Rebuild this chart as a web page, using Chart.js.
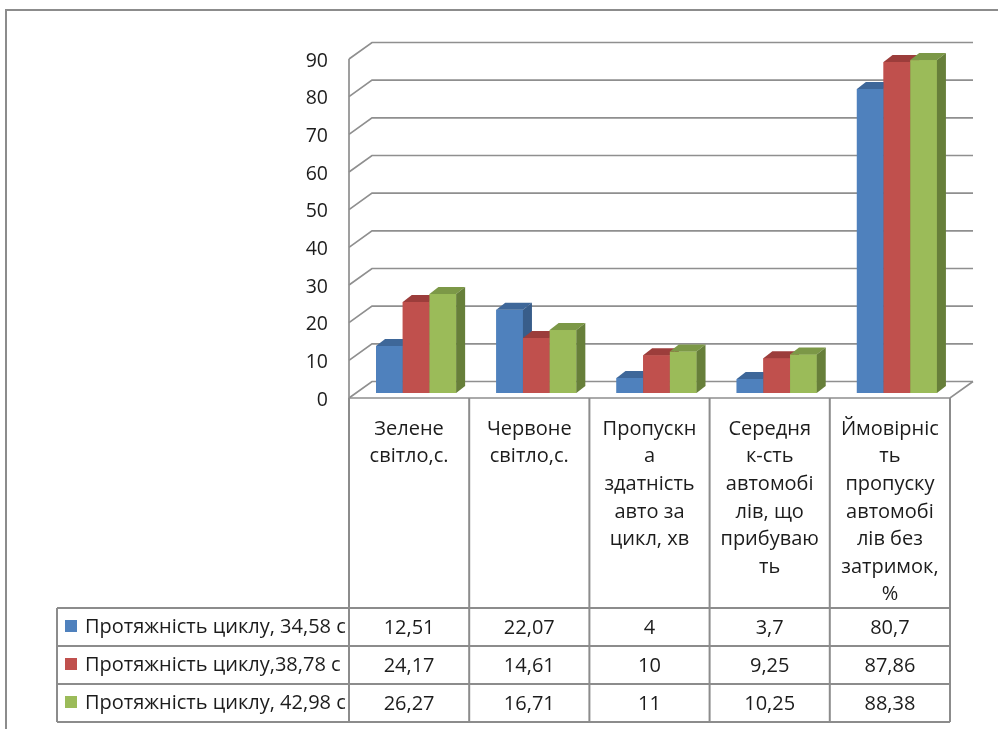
<!DOCTYPE html>
<html>
<head>
<meta charset="utf-8">
<script src="https://cdn.jsdelivr.net/npm/chart.js@4"></script>
<style>
html, body { margin: 0; padding: 0; background: #fff; }
canvas { display: block; }
</style>
</head>
<body>
<canvas id="myChart" width="998" height="729"></canvas>
<script>
var categories = [
  ["Зелене", "світло,с."],
  ["Червоне", "світло,с."],
  ["Пропускн", "а", "здатність", "авто за", "цикл, хв"],
  ["Середня", "к-сть", "автомобі", "лів, що", "прибуваю", "ть"],
  ["Ймовірніс", "ть", "пропуску", "автомобі", "лів без", "затримок,", "%"]
];
var seriesNames = [
  "Протяжність циклу, 34,58 с",
  "Протяжність циклу,38,78 с",
  "Протяжність циклу, 42,98 с"
];
var cycle1 = [12.51, 22.07, 4, 3.7, 80.7];
var cycle2 = [24.17, 14.61, 10, 9.25, 87.86];
var cycle3 = [26.27, 16.71, 11, 10.25, 88.38];
var yTicks = [0, 10, 20, 30, 40, 50, 60, 70, 80, 90];

var frontColors = ["#4F81BD", "#C0504D", "#9BBB59"];
var topColors = ["#3E6799", "#9C3D3B", "#7C9847"];
var sideColors = ["#385D8A", "#8A3735", "#677F3A"];

var FONT = '"Open Sans", sans-serif';
var LINE = "#8c8c8c";
var TEXT = "#1c1c1c";
// offsets of the front and back planes from the bar plane
var FX = -7, FY = 5, BX = 16, BY = -11.5;
// bar depth
var DX = 9, DY = -7;

var perspective = {
  id: "perspective",
  beforeDraw: function (chart) {
    var ctx = chart.ctx, a = chart.chartArea, y = chart.scales.y;
    ctx.save();
    ctx.strokeStyle = LINE;
    ctx.lineWidth = 2;
    ctx.beginPath();
    ctx.moveTo(6, chart.height);
    ctx.lineTo(6, 10);
    ctx.lineTo(chart.width, 10);
    ctx.stroke();

    ctx.lineWidth = 1.7;
    ctx.strokeStyle = "#8f8f8f";
    yTicks.forEach(function (v) {
      var py = y.getPixelForValue(v);
      ctx.beginPath();
      ctx.moveTo(a.left + FX, py + FY);
      ctx.lineTo(a.left + BX, py + BY);
      ctx.lineTo(a.right + BX, py + BY);
      ctx.stroke();
    });
    var y0 = y.getPixelForValue(0), yTop = y.getPixelForValue(yTicks[yTicks.length - 1]);
    ctx.beginPath();
    ctx.moveTo(a.left + FX, yTop + FY);
    ctx.lineTo(a.left + FX, y0 + FY);
    ctx.lineTo(a.right + FX, y0 + FY);
    ctx.lineTo(a.right + BX, y0 + BY);
    ctx.stroke();

    ctx.fillStyle = TEXT;
    ctx.font = "19.5px " + FONT;
    ctx.textAlign = "right";
    ctx.textBaseline = "middle";
    yTicks.forEach(function (v) {
      ctx.fillText(String(v), a.left + FX - 21, y.getPixelForValue(v) + FY + 2);
    });
    ctx.restore();
  },
  afterDatasetsDraw: function (chart) {
    var ctx = chart.ctx;
    var metas = chart.data.datasets.map(function (d, i) { return chart.getDatasetMeta(i); });
    ctx.save();
    for (var j = 0; j < categories.length; j++) {
      for (var i = 0; i < metas.length; i++) {
        var el = metas[i].data[j];
        var l = el.x - el.width / 2, r = el.x + el.width / 2, t = el.y, b = el.base;
        ctx.fillStyle = frontColors[i];
        ctx.fillRect(l, t, r - l, b - t);
        ctx.fillStyle = topColors[i];
        ctx.beginPath();
        ctx.moveTo(l, t); ctx.lineTo(l + DX, t + DY); ctx.lineTo(r + DX, t + DY); ctx.lineTo(r, t);
        ctx.closePath(); ctx.fill();
        ctx.fillStyle = sideColors[i];
        ctx.beginPath();
        ctx.moveTo(r, t); ctx.lineTo(r + DX, t + DY); ctx.lineTo(r + DX, b + DY); ctx.lineTo(r, b);
        ctx.closePath(); ctx.fill();
      }
    }
    ctx.restore();
  },
  afterDraw: function (chart) {
    var ctx = chart.ctx, a = chart.chartArea, x = chart.scales.x, y = chart.scales.y;
    var catW = (a.right - a.left) / categories.length;
    var top = y.getPixelForValue(0) + FY;
    var headBottom = top + 210, rowH = 38, legLeft = 57;
    var cols = [];
    for (var k = 0; k <= categories.length; k++) cols.push(a.left + FX + k * catW);
    var bottom = headBottom + rowH * seriesNames.length;

    ctx.save();
    ctx.strokeStyle = LINE;
    ctx.lineWidth = 2;
    ctx.beginPath();
    cols.forEach(function (cx) { ctx.moveTo(cx, top); ctx.lineTo(cx, bottom); });
    for (var r = 0; r <= seriesNames.length; r++) {
      ctx.moveTo(legLeft, headBottom + r * rowH);
      ctx.lineTo(cols[cols.length - 1], headBottom + r * rowH);
    }
    ctx.moveTo(legLeft, headBottom); ctx.lineTo(legLeft, bottom);
    ctx.stroke();

    ctx.fillStyle = TEXT;
    ctx.font = "20px " + FONT;
    ctx.textAlign = "center";
    ctx.textBaseline = "middle";
    categories.forEach(function (lines, j) {
      var cx = x.getPixelForValue(j) + FX;
      lines.forEach(function (s, n) { ctx.fillText(s, cx, top + 31 + n * 27.6); });
    });

    var series = [cycle1, cycle2, cycle3];
    series.forEach(function (vals, i) {
      var cy = headBottom + i * rowH + rowH / 2;
      ctx.fillStyle = frontColors[i];
      ctx.fillRect(65, cy - 7, 12, 12);
      ctx.fillStyle = TEXT;
      ctx.textAlign = "left";
      ctx.fillText(seriesNames[i], 85, cy);
      ctx.textAlign = "center";
      vals.forEach(function (v, j) {
        ctx.fillText(String(v).replace(".", ","), x.getPixelForValue(j) + FX, cy + 1);
      });
    });
    ctx.restore();
  }
};

new Chart("myChart", {
  type: "bar",
  data: {
    labels: categories,
    datasets: [
      { label: seriesNames[0], data: cycle1, backgroundColor: frontColors[0] },
      { label: seriesNames[1], data: cycle2, backgroundColor: frontColors[1] },
      { label: seriesNames[2], data: cycle3, backgroundColor: frontColors[2] }
    ]
  },
  options: {
    responsive: false,
    animation: false,
    devicePixelRatio: 1,
    layout: { padding: { left: 356, right: 41, top: 54, bottom: 336 } },
    datasets: { bar: { categoryPercentage: 0.666, barPercentage: 1 } },
    scales: {
      x: { display: false },
      y: { display: false, min: 0, max: 90 }
    },
    plugins: { legend: { display: false }, tooltip: { enabled: false } }
  },
  plugins: [perspective]
});
</script>
</body>
</html>
